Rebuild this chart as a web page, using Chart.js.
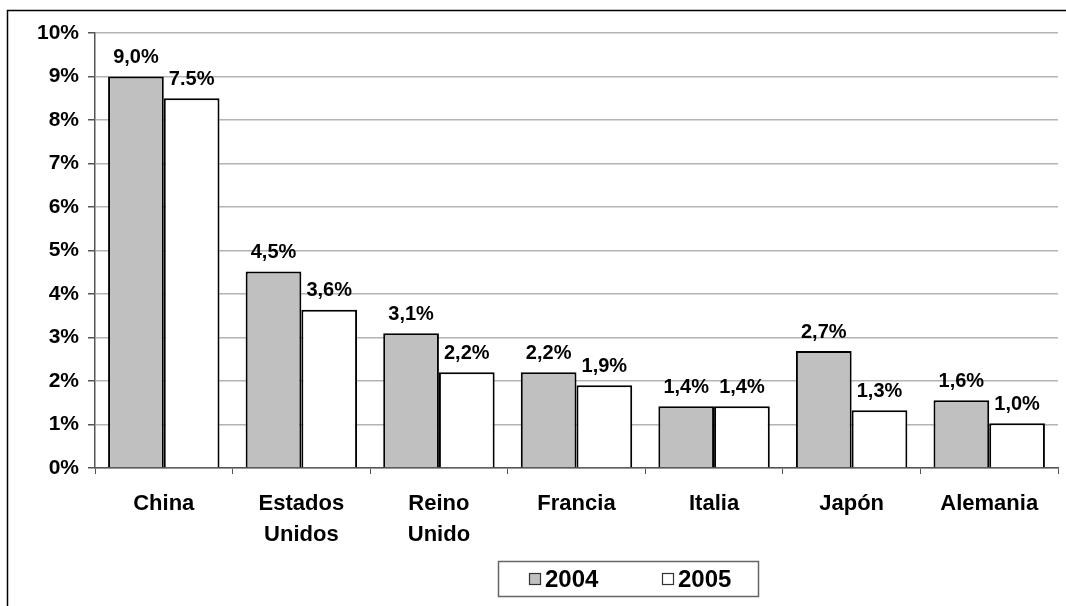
<!DOCTYPE html>
<html>
<head>
<meta charset="utf-8">
<script src="https://cdn.jsdelivr.net/npm/chart.js@4/dist/chart.umd.min.js"></script>
<style>
  html, body { margin: 0; padding: 0; background: #fff; }
  #wrap { width: 1066px; height: 606px; position: relative; }
</style>
</head>
<body>
<div id="wrap"><canvas id="myChart" width="1066" height="606"></canvas></div>
<script>
const categories = [['China'], ['Estados', 'Unidos'], ['Reino', 'Unido'], 'Francia', 'Italia', 'Japón', 'Alemania'];
const series = ['2004', '2005'];
const values2004 = [9.0, 4.52, 3.1, 2.2, 1.42, 2.69, 1.56];
const values2005 = [8.5, 3.64, 2.2, 1.9, 1.42, 1.33, 1.03];
const labels2004 = ['9,0%', '4,5%', '3,1%', '2,2%', '1,4%', '2,7%', '1,6%'];
const labels2005 = ['7.5%', '3,6%', '2,2%', '1,9%', '1,4%', '1,3%', '1,0%'];
const yTicks = [0, 1, 2, 3, 4, 5, 6, 7, 8, 9, 10];

const FONT = '"Liberation Sans", Arial, sans-serif';

// marco exterior (cortado a la derecha y abajo como en el original)
const framePlugin = {
    id: 'frame',
    beforeDraw(chart) {
        const ctx = chart.ctx;
        ctx.save();
        ctx.strokeStyle = '#000';
        ctx.lineWidth = 1.5;
        ctx.beginPath();
        ctx.moveTo(7.5, chart.height + 5);
        ctx.lineTo(7.5, 10.5);
        ctx.lineTo(chart.width + 5, 10.5);
        ctx.stroke();
        ctx.restore();
    }
};

// etiquetas de valor sobre cada barra
const valueLabels = {
    id: 'valueLabels',
    afterDatasetsDraw(chart) {
        const ctx = chart.ctx;
        const allLabels = [labels2004, labels2005];
        ctx.save();
        ctx.font = 'bold 20px ' + FONT;
        ctx.fillStyle = '#000';
        ctx.textAlign = 'center';
        ctx.textBaseline = 'middle';
        chart.data.datasets.forEach((ds, i) => {
            chart.getDatasetMeta(i).data.forEach((bar, j) => {
                ctx.fillText(allLabels[i][j], bar.x, bar.y - 19);
            });
        });
        ctx.restore();
    }
};

// leyenda con recuadro
const boxLegend = {
    id: 'boxLegend',
    afterDraw(chart) {
        const ctx = chart.ctx;
        ctx.save();
        ctx.strokeStyle = '#666';
        ctx.lineWidth = 1.5;
        ctx.strokeRect(498.5, 561.5, 260, 35);
        const xs = [529, 662];
        ctx.font = 'bold 24px ' + FONT;
        ctx.textBaseline = 'middle';
        ctx.textAlign = 'left';
        chart.data.datasets.forEach((ds, i) => {
            ctx.fillStyle = ds.backgroundColor;
            ctx.fillRect(xs[i], 573, 12, 12);
            ctx.strokeStyle = '#333';
            ctx.lineWidth = 1.2;
            ctx.strokeRect(xs[i] + 0.5, 573.5, 11, 11);
            ctx.fillStyle = '#000';
            ctx.fillText(ds.label, xs[i] + 16, 580);
        });
        ctx.restore();
    }
};

const ctx = document.getElementById('myChart');
const myChart = new Chart(ctx, {
    type: 'bar',
    data: {
        labels: categories,
        datasets: [{
            label: series[0],
            data: values2004,
            backgroundColor: '#c0c0c0',
            borderColor: '#000',
            borderWidth: 2,
            borderSkipped: 'bottom'
        }, {
            label: series[1],
            data: values2005,
            backgroundColor: '#ffffff',
            borderColor: '#000',
            borderWidth: 2,
            borderSkipped: 'bottom'
        }]
    },
    options: {
        responsive: false,
        animation: false,
        layout: { padding: { left: 0, top: 33, right: 8, bottom: 0 } },
        datasets: { bar: { categoryPercentage: 0.81, barPercentage: 1.0 } },
        plugins: {
            legend: { display: false },
            tooltip: { enabled: false }
        },
        scales: {
            x: {
                grid: { drawOnChartArea: false, color: '#555', tickLength: 6, offset: true },
                border: { color: '#555', width: 1.5 },
                ticks: {
                    color: '#000',
                    padding: 15,
                    maxRotation: 0,
                    autoSkip: false,
                    font: { family: FONT, size: 22, weight: 'bold', lineHeight: 1.4 }
                },
                afterFit(scale) { scale.height = 606 - 468; }
            },
            y: {
                min: 0,
                max: yTicks[yTicks.length - 1],
                afterBuildTicks(scale) { scale.ticks = yTicks.map(v => ({ value: v })); },
                grid: { color: '#b4b4b4', lineWidth: 1.5, tickLength: 7, tickColor: '#555' },
                border: { color: '#555', width: 1.5 },
                ticks: {
                    color: '#000',
                    padding: 9,
                    font: { family: FONT, size: 21, weight: 'bold' },
                    callback: v => v + '%'
                },
                afterFit(scale) { scale.width = 95; }
            }
        }
    },
    plugins: [framePlugin, valueLabels, boxLegend]
});
</script>
</body>
</html>
